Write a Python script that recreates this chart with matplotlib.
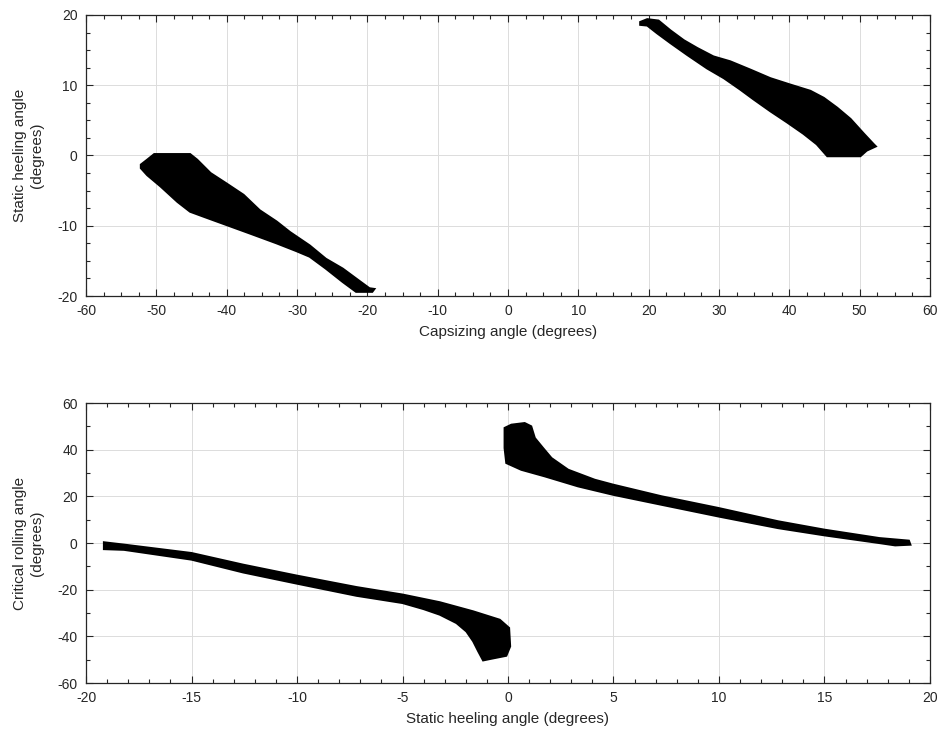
import numpy as np
import matplotlib
matplotlib.use("Agg")
import matplotlib.pyplot as plt
from matplotlib.ticker import MultipleLocator

plt.rcParams['font.family'] = ['Liberation Sans', 'DejaVu Sans']
plt.rcParams['axes.unicode_minus'] = False

# --- top panel: capsizing angle vs static heeling angle (region outlines) ---
cap_neg_x = [-50.3, -45.2, -44.2, -42.3, -40.0, -37.6, -35.3, -32.9, -31.0, -28.2,
             -25.9, -23.5, -21.2, -19.7, -19.0, -19.3, -21.6, -23.5, -25.9, -28.2,
             -30.1, -32.9, -36.7, -40.0, -43.3, -45.2, -47.0, -49.4, -51.3, -52.2,
             -52.2, -51.3]
cap_neg_y = [0.2, 0.2, -0.6, -2.5, -4.0, -5.6, -7.8, -9.4, -10.9, -12.8,
             -14.7, -16.1, -17.8, -18.9, -19.0, -19.4, -19.4, -18.0, -16.1, -14.4,
             -13.6, -12.5, -11.1, -9.9, -8.7, -8.0, -6.6, -4.4, -2.8, -1.8,
             -1.3, -0.6]

cap_pos_x = [18.8, 19.8, 21.4, 23.1, 25.0, 26.9, 29.2, 31.6, 34.5, 37.3, 40.1,
             43.0, 44.9, 46.8, 48.7, 50.6, 52.0, 52.3, 51.0, 50.1, 45.4, 43.9,
             42.0, 39.7, 37.3, 34.9, 33.0, 30.7, 28.3, 25.5, 23.1, 21.2, 19.8, 18.8]
cap_pos_y = [19.0, 19.4, 19.2, 17.8, 16.4, 15.3, 14.1, 13.4, 12.2, 11.0, 10.1,
             9.2, 8.2, 6.8, 5.2, 3.1, 1.6, 1.3, 0.7, -0.1, -0.1, 1.6,
             3.1, 4.7, 6.3, 8.0, 9.4, 11.0, 12.4, 14.3, 16.0, 17.4, 18.5, 18.6]

# --- bottom panel: static heeling angle vs critical rolling angle ---
roll_neg_x = [-19.15, -18.2, -15.0, -12.55, -10.0, -7.18, -5.0, -3.23, -1.65, -0.39,
              0.05, 0.1, -0.08, -0.86, -1.18, -1.41, -1.65, -1.97, -2.44, -3.23,
              -4.0, -5.0, -7.18, -10.0, -12.55, -15.0, -18.2, -19.15]
roll_neg_y = [0.3, -0.7, -4.3, -9.3, -14.0, -18.9, -22.1, -25.4, -29.3, -32.9,
              -36.4, -44.3, -48.3, -49.7, -50.3, -46.4, -42.1, -37.9, -34.3, -30.7,
              -28.3, -25.7, -22.6, -17.4, -12.6, -7.1, -2.9, -2.6]

roll_pos_x = [-0.16, 0.16, 0.79, 1.1, 1.27, 1.66, 2.06, 2.85, 4.11, 4.98, 7.28,
              9.97, 12.8, 15.0, 17.6, 19.0, 19.07, 18.35, 17.6, 15.0, 12.8, 9.97,
              7.28, 4.98, 3.32, 1.74, 0.63, -0.08, -0.16]
roll_pos_y = [49.3, 50.7, 51.4, 50.0, 45.0, 40.7, 36.4, 31.4, 27.1, 25.0, 20.0,
              15.0, 9.3, 5.7, 2.1, 1.0, -0.7, -1.0, 0.0, 3.3, 6.4, 11.4,
              16.4, 20.7, 24.3, 28.6, 31.4, 34.3, 40.7]

tick_col = '#262626'

fig = plt.figure(figsize=(9.39, 7.38), dpi=100)
ax1 = fig.add_axes([0.0916, 0.5989, 0.8988, 0.3808])
ax2 = fig.add_axes([0.0916, 0.0745, 0.8988, 0.3794])


def style(ax, xmin, xmaj, ymin, ymaj):
    ax.xaxis.set_major_locator(MultipleLocator(xmaj))
    ax.xaxis.set_minor_locator(MultipleLocator(xmin))
    ax.yaxis.set_major_locator(MultipleLocator(ymaj))
    ax.yaxis.set_minor_locator(MultipleLocator(ymin))
    ax.tick_params(which='both', direction='in', top=True, right=True,
                   colors=tick_col, labelsize=10)
    ax.tick_params(which='major', length=5, width=0.8, pad=6)
    ax.tick_params(which='minor', length=3, width=0.8)
    ax.grid(True, which='major', color='#dcdcdc', linewidth=0.7)
    ax.set_axisbelow(True)
    for s in ax.spines.values():
        s.set_color(tick_col)
        s.set_linewidth(0.9)


for xs, ys in [(cap_neg_x, cap_neg_y), (cap_pos_x, cap_pos_y)]:
    ax1.fill(xs, ys, color='black', edgecolor='black', linewidth=1.5, zorder=3)
ax1.set_xlim(-60, 60)
ax1.set_ylim(-20, 20)
style(ax1, 2.5, 10, 2.5, 10)
ax1.set_xlabel('Capsizing angle (degrees)', fontsize=11, color=tick_col, labelpad=5)
ax1.set_ylabel('Static heeling angle\n(degrees)', fontsize=11, color=tick_col, labelpad=10)

for xs, ys in [(roll_neg_x, roll_neg_y), (roll_pos_x, roll_pos_y)]:
    ax2.fill(xs, ys, color='black', edgecolor='black', linewidth=1.5, zorder=3)
ax2.set_xlim(-20, 20)
ax2.set_ylim(-60, 60)
style(ax2, 1, 5, 10, 20)
ax2.set_xlabel('Static heeling angle (degrees)', fontsize=11, color=tick_col, labelpad=5)
ax2.set_ylabel('Critical rolling angle\n(degrees)', fontsize=11, color=tick_col, labelpad=10)

fig.savefig('out.png', dpi=100)
